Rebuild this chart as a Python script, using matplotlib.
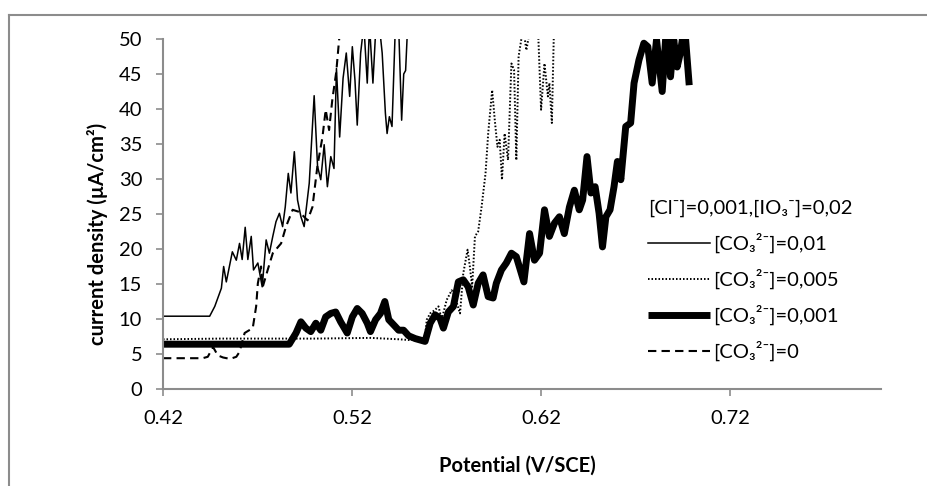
import matplotlib
matplotlib.use("Agg")
import matplotlib.pyplot as plt
from matplotlib.lines import Line2D

plt.rcParams['font.family'] = ['Lato', 'DejaVu Sans']

# ---------------- data ----------------
v_c001 = [0.42, 0.4447, 0.4474, 0.4509, 0.4521, 0.4535, 0.4567, 0.4588, 0.4605, 0.4619,
          0.4635, 0.4649, 0.4667, 0.4679, 0.4702, 0.4725, 0.4746, 0.4763, 0.4781, 0.4798,
          0.4816, 0.4833, 0.4847, 0.4863, 0.4877, 0.4895, 0.4912, 0.4930, 0.4947, 0.4974,
          0.5000, 0.5018, 0.5035, 0.5053, 0.5070, 0.5088, 0.5105, 0.5118, 0.5135, 0.5153,
          0.5170, 0.5188, 0.5202, 0.5216, 0.5228, 0.5246, 0.5263, 0.5281, 0.5293, 0.5311,
          0.5333, 0.5360, 0.5377, 0.5386, 0.5398, 0.5412, 0.5430, 0.5447, 0.5463, 0.5474,
          0.5484, 0.5500]
i_c001 = [10.4, 10.4, 11.8, 14.4, 17.5, 15.3, 19.6, 18.4, 20.8, 18.5,
          23.1, 18.5, 21.8, 17.0, 18.0, 14.6, 21.3, 19.4, 21.8, 23.9,
          25.1, 23.2, 26.0, 30.8, 28.0, 33.9, 27.0, 24.6, 23.2, 29.4,
          41.9, 31.8, 29.9, 34.9, 28.9, 33.2, 31.5, 45.8, 36.0, 44.4,
          48.0, 41.8, 48.9, 44.1, 37.7, 48.0, 52.0, 43.7, 52.0, 43.7,
          55.0, 48.0, 39.4, 36.5, 38.9, 37.5, 52.0, 52.0, 38.4, 45.0,
          45.5, 55.0]

v_c0005 = [0.42, 0.45, 0.50, 0.53, 0.545, 0.550, 0.556, 0.5587, 0.5596, 0.5614,
           0.5640, 0.5658, 0.5675, 0.5701, 0.5728, 0.5745, 0.5772, 0.5789, 0.5812, 0.5824,
           0.5836, 0.5851, 0.5868, 0.5886, 0.5907, 0.5921, 0.5942, 0.5956, 0.5970, 0.5982,
           0.5994, 0.6008, 0.6026, 0.6044, 0.6058, 0.6070, 0.6082, 0.6096, 0.6105, 0.6123,
           0.6140, 0.6184, 0.6201, 0.6219, 0.6237, 0.6245, 0.6258, 0.6272]
i_c0005 = [7.1, 7.2, 7.2, 7.3, 7.1, 7.0, 7.0, 7.5, 9.9, 10.8,
           11.3, 11.8, 9.9, 12.7, 14.1, 13.2, 10.8, 16.5, 19.9, 17.5,
           14.6, 21.8, 22.5, 26.0, 30.8, 36.5, 42.7, 38.4, 34.6, 35.6,
           29.9, 36.5, 32.7, 46.5, 45.6, 32.7, 47.5, 49.9, 52.0, 48.4,
           51.0, 52.0, 39.9, 46.5, 41.8, 43.7, 38.0, 55.0]

v_c0001 = [0.42, 0.4868, 0.4904, 0.4930, 0.4956, 0.4982, 0.5009, 0.5035, 0.5061, 0.5088,
           0.5114, 0.5140, 0.5175, 0.5202, 0.5228, 0.5254, 0.5281, 0.5298, 0.5325, 0.5351,
           0.5374, 0.5395, 0.5430, 0.5447, 0.5473, 0.5500, 0.5535, 0.5587, 0.5614, 0.5640,
           0.5666, 0.5684, 0.5710, 0.5737, 0.5763, 0.5789, 0.5815, 0.5842, 0.5868, 0.5894,
           0.5921, 0.5947, 0.5964, 0.5991, 0.6017, 0.6044, 0.6070, 0.6110, 0.6140, 0.6166,
           0.6193, 0.6219, 0.6245, 0.6272, 0.6298, 0.6324, 0.6351, 0.6377, 0.6403, 0.6421,
           0.6444, 0.6465, 0.6487, 0.6508, 0.6526, 0.6544, 0.6566, 0.6587, 0.6605, 0.6623,
           0.6649, 0.6675, 0.6693, 0.6719, 0.6745, 0.6766, 0.6789, 0.6812, 0.6842, 0.6865,
           0.6886, 0.6903, 0.6921, 0.6938, 0.6960, 0.6985]
i_c0001 = [6.4, 6.4, 8.0, 9.6, 8.7, 8.2, 9.4, 8.4, 10.3, 10.8,
           11.0, 9.6, 8.0, 10.3, 11.5, 10.8, 9.4, 8.2, 9.9, 10.8,
           12.5, 9.9, 8.9, 8.4, 8.4, 7.6, 7.2, 6.8, 9.4, 10.6,
           10.1, 8.7, 11.0, 11.8, 15.3, 15.6, 14.6, 12.0, 15.1, 16.3,
           13.2, 13.0, 15.1, 17.0, 18.0, 19.4, 18.9, 15.3, 22.2, 18.4,
           19.4, 25.6, 21.8, 23.7, 24.6, 22.2, 26.0, 28.4, 25.6, 27.0,
           33.2, 28.0, 28.9, 25.1, 20.3, 24.6, 25.6, 28.9, 32.5, 29.9,
           37.5, 38.0, 43.7, 47.0, 49.4, 48.9, 43.7, 49.9, 42.5, 52.0,
           44.6, 49.9, 46.0, 48.0, 52.0, 43.4]

v_c0 = [0.42, 0.441, 0.4437, 0.4465, 0.4490, 0.4518, 0.4555, 0.4588, 0.4605, 0.4632,
        0.4675, 0.4693, 0.4702, 0.4719, 0.4728, 0.4754, 0.4781, 0.4825, 0.4851, 0.4886,
        0.4921, 0.4965, 0.4991, 0.5017, 0.5044, 0.5061, 0.5079, 0.5096, 0.5117, 0.5132,
        0.5146]
i_c0 = [4.4, 4.4, 4.6, 6.0, 4.8, 4.5, 4.3, 4.6, 5.3, 8.0,
        8.7, 11.8, 15.1, 17.5, 14.6, 17.0, 19.4, 20.8, 23.2, 25.6,
        25.3, 24.1, 26.0, 31.8, 36.0, 39.9, 37.0, 41.3, 45.3, 49.9,
        52.0]

x_ticks = [0.42, 0.52, 0.62, 0.72]
x_ticklabels = ["0.42", "0.52", "0.62", "0.72"]
y_ticks = [0, 5, 10, 15, 20, 25, 30, 35, 40, 45, 50]

labels = ["[CO\u2083\u00b2\u207b]=0,01", "[CO\u2083\u00b2\u207b]=0,005",
          "[CO\u2083\u00b2\u207b]=0,001", "[CO\u2083\u00b2\u207b]=0"]
legend_title = "[Cl\u207b]=0,001,[IO\u2083\u207b]=0,02"

# ---------------- figure ----------------
W, H = 928, 486
FS = 14.5
fig = plt.figure(figsize=(W / 100, H / 100), dpi=100)
ax = fig.add_axes([163 / W, 1 - 389 / H, (881 - 163) / W, (389 - 39) / H])

ax.plot(v_c001, i_c001, color='black', lw=1.1, label=labels[0])
ax.plot(v_c0005, i_c0005, color='black', lw=1.4, linestyle=(0, (0.8, 1.0)), label=labels[1])
ax.plot(v_c0001, i_c0001, color='black', lw=5.0, solid_joinstyle='round',
        solid_capstyle='butt', label=labels[2])
ax.plot(v_c0, i_c0, color='black', lw=1.5, linestyle=(0, (4, 2.5)), label=labels[3])

ax.set_xlim(0.42, 0.80)
ax.set_ylim(0, 50)
ax.set_xticks(x_ticks)
ax.set_xticklabels(x_ticklabels)
ax.set_yticks(y_ticks)

gray = '#8c8c8c'
for s in ['top', 'right']:
    ax.spines[s].set_visible(False)
for s in ['left', 'bottom']:
    ax.spines[s].set_color(gray)
    ax.spines[s].set_linewidth(1.5)
ax.tick_params(axis='both', direction='out', length=5, width=1.2, color=gray,
               labelsize=FS, labelcolor='black')
ax.tick_params(axis='x', pad=10)
ax.tick_params(axis='y', pad=10)

ax.set_xlabel("Potential (V/SCE)", fontsize=FS, fontweight='bold')
ax.set_ylabel("current density (\u00b5A/cm\u00b2)", fontsize=FS, fontweight='bold')
ax.xaxis.set_label_coords(517 / W, 1 - 456 / H, transform=fig.transFigure)
ax.yaxis.set_label_coords(108 / W, 1 - 234 / H, transform=fig.transFigure)

leg = ax.legend(loc='upper left', bbox_to_anchor=(648 / W, 1 - 200 / H),
                bbox_transform=fig.transFigure, frameon=False, fontsize=FS,
                title=legend_title, title_fontsize=FS, alignment='left',
                handlelength=3.1, handletextpad=0.15, labelspacing=0.78,
                borderpad=0, borderaxespad=0)

# outer chart border (top and left edges visible)
fig.add_artist(Line2D([9 / W, 1.0], [1 - 15 / H, 1 - 15 / H], color=gray, lw=1.5,
                      transform=fig.transFigure))
fig.add_artist(Line2D([9 / W, 9 / W], [0.0, 1 - 15 / H], color=gray, lw=1.5,
                      transform=fig.transFigure))

fig.savefig("out.png", dpi=100)
